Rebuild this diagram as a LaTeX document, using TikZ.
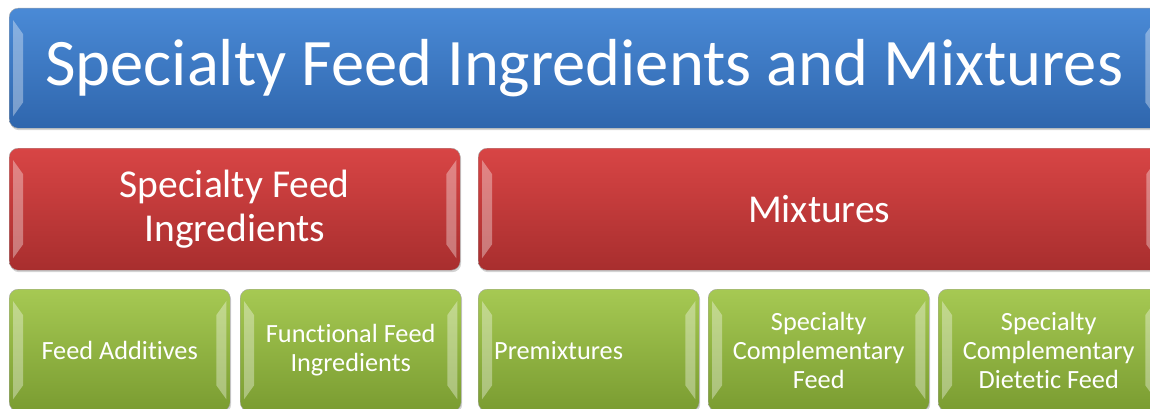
\documentclass[tikz,border=0pt]{standalone}
\usepackage{fontspec}
\setmainfont{Carlito}[Ligatures=NoCommon]
\usetikzlibrary{shadows}
\definecolor{bluetop}{HTML}{4A8AD6}
\definecolor{bluebot}{HTML}{2F66AD}
\definecolor{redtop}{HTML}{D84545}
\definecolor{redbot}{HTML}{A82E2E}
\definecolor{greentop}{HTML}{A6C953}
\definecolor{greenbot}{HTML}{7A9C31}
\tikzset{
  box/.style = {anchor=north west, rounded corners=9pt, draw=black!35,
    text=white, align=center, inner sep=0pt,
    drop shadow={shadow xshift=1pt, shadow yshift=-2pt, opacity=0.35}},
  topbox/.style = {box, top color=bluetop, bottom color=bluebot,
    font=\fontsize{66.5}{76}\selectfont},
  midbox/.style = {box, top color=redtop, bottom color=redbot,
    font=\fontsize{39.5}{44}\selectfont},
  leafbox/.style = {box, top color=greentop, bottom color=greenbot,
    font=\fontsize{26.3}{29}\selectfont},
  bevel/.style = {fill=white, opacity=0.35}
}
% light strips on the left and right edge of a box
\newcommand{\bevel}[1]{%
  \fill[bevel] ([shift={(4,-12)}]#1.north west) -- ([shift={(14,-26)}]#1.north west)
    -- ([shift={(14,26)}]#1.south west) -- ([shift={(4,12)}]#1.south west) -- cycle;
  \fill[bevel] ([shift={(-4,-12)}]#1.north east) -- ([shift={(-14,-26)}]#1.north east)
    -- ([shift={(-14,26)}]#1.south east) -- ([shift={(-4,12)}]#1.south east) -- cycle;
}
\begin{document}
\begin{tikzpicture}[x=1pt,y=1pt]
  \useasboundingbox[clip] (0,0) rectangle (1150,-409);
  % title row
  \node[topbox, minimum width=1150pt, minimum height=120pt] (title) at (9,-8)
    {Specialty Feed Ingredients and Mixtures};
  % second row
  \node[midbox, minimum width=451pt, minimum height=122pt] (ingr) at (9,-148)
    {Specialty Feed\\Ingredients};
  \node[midbox, minimum width=682pt, minimum height=122pt] (mix) at (478,-148)
    {Mixtures};
  % third row
  \node[leafbox, minimum width=221pt, minimum height=122pt] (add) at (9,-289)
    {Feed Additives};
  \node[leafbox, minimum width=221pt, minimum height=122pt] (func) at (240,-289)
    {Functional Feed\\Ingredients};
  \node[leafbox, minimum width=221pt, minimum height=122pt] (premix) at (478,-289) {};
  \node[anchor=west, text=white, font=\fontsize{26.3}{29}\selectfont, inner sep=0pt]
    (premixtext) at ([xshift=16pt]premix.west) {Premixtures};
  \node[leafbox, minimum width=221pt, minimum height=122pt] (compl) at (708,-289)
    {Specialty\\Complementary\\Feed};
  \node[leafbox, minimum width=221pt, minimum height=122pt] (diet) at (938,-289)
    {Specialty\\Complementary\\Dietetic Feed};
  \foreach \n in {title,ingr,mix,add,func,premix,compl,diet} {\bevel{\n}}
\end{tikzpicture}
\end{document}
